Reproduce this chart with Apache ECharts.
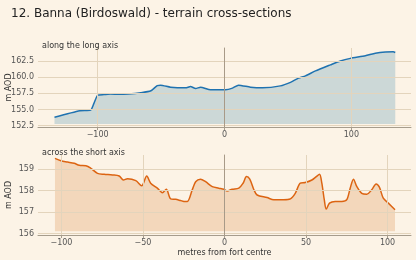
<!DOCTYPE html>
<html>
<head>
<meta charset="utf-8">
<script src="https://cdn.jsdelivr.net/npm/echarts@6/dist/echarts.min.js"></script>
<style>
  html, body { margin: 0; padding: 0; background: #fcf3e6; }
  #chart { width: 416px; height: 260px; }
</style>
</head>
<body>
<div id="chart"></div>
<script>
var chart = echarts.init(document.getElementById('chart'));

// long axis profile (metres from centre, m AOD)
var longX = [-134, -114, -105.5, -103, -100, -95, -90, -83, -76, -66, -58, -53, -50.4, -42.5, -30.7, -26.8, -22.8, -18.9, -11, 0.8, 6.3, 11, 20.5, 30, 44, 52, 58.3, 63.8, 71.7, 83.5, 91.3, 99.2, 111, 118.9, 126.8, 133, 134.6];
var longElev = [153.8, 154.8, 154.9, 155.9, 157.2, 157.3, 157.4, 157.35, 157.4, 157.6, 157.9, 158.7, 158.76, 158.45, 158.35, 158.55, 158.24, 158.45, 158.04, 158.04, 158.3, 158.76, 158.45, 158.35, 158.65, 159.2, 159.84, 160.2, 160.96, 161.9, 162.5, 162.9, 163.3, 163.7, 163.9, 163.93, 163.8];

// short axis profile
var shortX = [-104, -100.3, -96.2, -92.2, -89.1, -85, -82, -77.9, -73.8, -68.7, -64.6, -62, -59.5, -54.4, -50.8, -47.7, -45.3, -41.2, -38.1, -35.7, -33, -30, -26.9, -24.9, -22.8, -19.8, -17.7, -14.7, -11.6, -7.5, -3.5, -0.4, 1.6, 4.7, 8.8, 11.4, 13.5, 15.5, 17.9, 20, 26.1, 30.2, 36.3, 40.4, 43.4, 46.5, 49.5, 53.6, 56.3, 58.3, 59.7, 61.2, 62.4, 64.4, 67.9, 72, 75, 77.1, 79.1, 81.2, 84.2, 87.3, 90.3, 93, 95, 97.4, 100.5, 104.6];
var shortElev = [159.51, 159.4, 159.34, 159.28, 159.19, 159.17, 159.05, 158.81, 158.77, 158.74, 158.69, 158.5, 158.56, 158.47, 158.23, 158.69, 158.35, 158.12, 157.91, 158.07, 157.62, 157.6, 157.54, 157.5, 157.5, 158.04, 158.42, 158.54, 158.42, 158.19, 158.12, 158.07, 157.99, 158.07, 158.12, 158.35, 158.66, 158.54, 158.07, 157.8, 157.68, 157.58, 157.58, 157.62, 157.88, 158.35, 158.38, 158.5, 158.66, 158.77, 158.35, 157.58, 157.14, 157.42, 157.5, 157.5, 157.58, 158.12, 158.54, 158.19, 157.88, 157.84, 158.04, 158.32, 158.17, 157.65, 157.42, 157.11];

var longXTicks = [-100, 0, 100];
var longYTicks = [152.5, 155.0, 157.5, 160.0, 162.5];
var shortXTicks = [-100, -50, 0, 50, 100];
var shortYTicks = [156, 157, 158, 159];

function pairs(xs, ys) {
  return xs.map(function (x, i) { return [x, ys[i]]; });
}
function minus(v) { return String(v).replace('-', '\u2212'); }

// grid lines drawn as reference lines behind the translucent fill
function gridLines(xs, ys) {
  var d = [];
  xs.forEach(function (v) { if (v !== 0) d.push({ xAxis: v }); });
  ys.forEach(function (v) { d.push({ yAxis: v }); });
  return {
    silent: true, symbol: ['none', 'none'], label: { show: false },
    lineStyle: { color: '#e3d4bc', width: 1, type: 'solid', opacity: 1 },
    emphasis: { disabled: true },
    data: d
  };
}

var axisLine = { show: true, lineStyle: { color: '#a69c8c', width: 1 } };
var tickStyle = { show: true, length: 3, lineStyle: { color: '#a69c8c' } };
var labelStyle = { color: '#555', fontSize: 8, fontFamily: 'DejaVu Sans' };
var nameStyle = { fontSize: 8, color: '#333', fontFamily: 'DejaVu Sans' };
var zeroLine = {
  silent: true, symbol: 'none', label: { show: false },
  lineStyle: { color: '#a89a88', width: 1, type: 'solid', opacity: 1 },
  data: [{ xAxis: 0 }]
};

var option = {
  backgroundColor: '#fcf3e6',
  animation: false,
  title: [
    { text: '12. Banna (Birdoswald) - terrain cross-sections', left: 6, top: 3,
      textStyle: { fontSize: 12, fontWeight: 'normal', color: '#222', fontFamily: 'DejaVu Sans' } },
    { text: 'along the long axis', left: 37, top: 37,
      textStyle: { fontSize: 8, fontWeight: 'normal', color: '#333', fontFamily: 'DejaVu Sans' } },
    { text: 'across the short axis', left: 37, top: 144,
      textStyle: { fontSize: 8, fontWeight: 'normal', color: '#333', fontFamily: 'DejaVu Sans' } }
  ],
  grid: [
    { left: 38, top: 48, right: 5, height: 79, outerBoundsMode: 'none', containLabel: false },
    { left: 38, top: 155, right: 5, height: 80, outerBoundsMode: 'none', containLabel: false }
  ],
  xAxis: [
    { type: 'value', gridIndex: 0, min: -147, max: 147,
      axisLine: axisLine, splitLine: { show: false },
      axisLabel: Object.assign({ margin: 4, formatter: minus, customValues: longXTicks }, labelStyle),
      axisTick: Object.assign({ customValues: longXTicks }, tickStyle) },
    { type: 'value', gridIndex: 1, min: -114.4, max: 114.4,
      axisLine: axisLine, splitLine: { show: false },
      axisLabel: Object.assign({ margin: 4, formatter: minus, customValues: shortXTicks }, labelStyle),
      axisTick: Object.assign({ customValues: shortXTicks }, tickStyle),
      name: 'metres from fort centre', nameLocation: 'middle', nameGap: 14,
      nameMoveOverlap: false, nameTextStyle: nameStyle }
  ],
  yAxis: [
    { type: 'value', gridIndex: 0, min: 152.3, max: 164.5,
      axisLine: axisLine, splitLine: { show: false },
      axisLabel: Object.assign({ margin: 4, formatter: function (v) { return v.toFixed(1); }, customValues: longYTicks }, labelStyle),
      axisTick: Object.assign({ customValues: longYTicks }, tickStyle),
      name: 'm AOD', nameLocation: 'middle', nameGap: 25, nameMoveOverlap: false,
      nameTextStyle: nameStyle },
    { type: 'value', gridIndex: 1, min: 155.93, max: 159.67,
      axisLine: axisLine, splitLine: { show: false },
      axisLabel: Object.assign({ margin: 4, customValues: shortYTicks }, labelStyle),
      axisTick: Object.assign({ customValues: shortYTicks }, tickStyle),
      name: 'm AOD', nameLocation: 'middle', nameGap: 25, nameMoveOverlap: false,
      nameTextStyle: nameStyle }
  ],
  series: [
    { type: 'line', xAxisIndex: 0, yAxisIndex: 0, data: pairs(longX, longElev),
      showSymbol: false, lineStyle: { width: 0, color: '#e3d4bc' },
      markLine: gridLines(longXTicks, longYTicks), z: 1 },
    { type: 'line', xAxisIndex: 1, yAxisIndex: 1, data: pairs(shortX, shortElev),
      showSymbol: false, lineStyle: { width: 0, color: '#e3d4bc' },
      markLine: gridLines(shortXTicks, shortYTicks), z: 1 },
    { type: 'line', xAxisIndex: 0, yAxisIndex: 0, data: pairs(longX, longElev),
      showSymbol: false, smooth: 0.2,
      lineStyle: { color: '#1f72b0', width: 1.5 },
      areaStyle: { color: 'rgba(38,125,166,0.22)', opacity: 1, origin: 152.76 },
      markLine: zeroLine, z: 3 },
    { type: 'line', xAxisIndex: 1, yAxisIndex: 1, data: pairs(shortX, shortElev),
      showSymbol: false, smooth: 0.3,
      lineStyle: { color: '#dc6412', width: 1.5 },
      areaStyle: { color: 'rgba(212,103,15,0.2)', opacity: 1, origin: 156.1 },
      markLine: zeroLine, z: 3 }
  ]
};

chart.setOption(option);
</script>
</body>
</html>
